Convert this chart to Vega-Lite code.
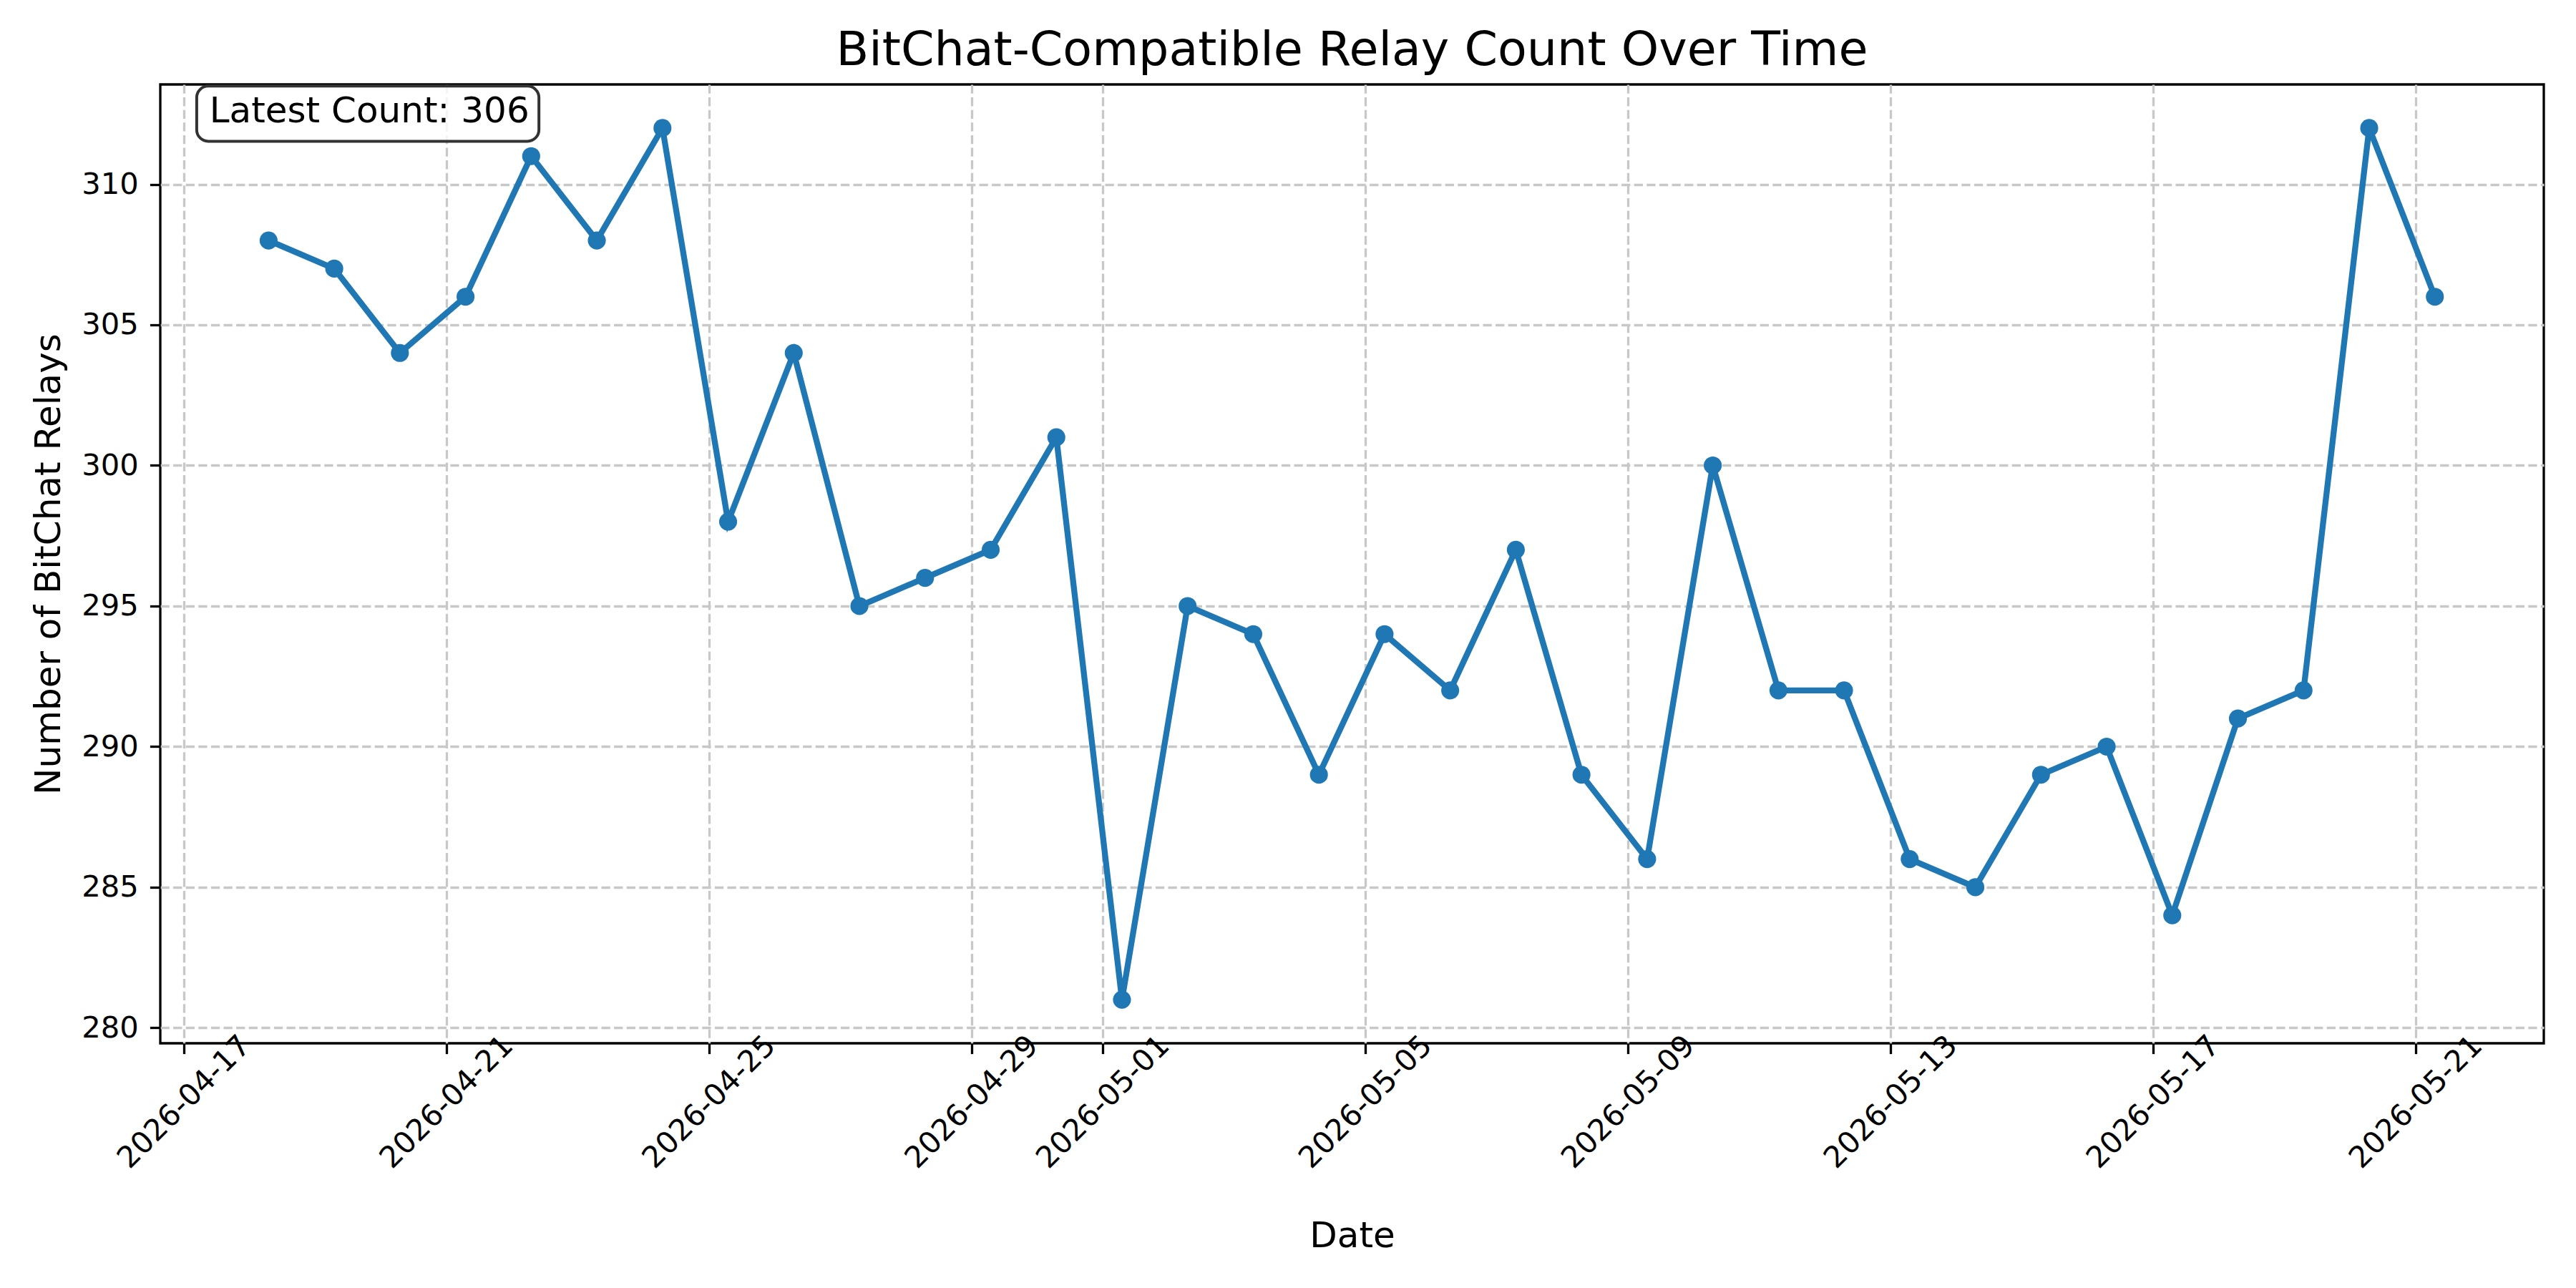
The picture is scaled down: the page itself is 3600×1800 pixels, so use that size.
{
  "$schema": "https://vega.github.io/schema/vega-lite/v6.json",
  "autosize": {"type": "none"},
  "padding": {"left": 224, "top": 118, "right": 45, "bottom": 342},
  "width": 3331,
  "height": 1340,
  "background": "white",
  "title": {
    "text": "BitChat-Compatible Relay Count Over Time",
    "font": "DejaVu Sans",
    "fontSize": 66.7,
    "fontWeight": "normal",
    "color": "black",
    "anchor": "middle",
    "frame": "group",
    "baseline": "alphabetic",
    "offset": 25,
    "dy": 65
  },
  "config": {
    "view": {"stroke": "black", "strokeWidth": 3.3},
    "axis": {
      "domain": false,
      "labelFont": "DejaVu Sans",
      "labelFontSize": 41.7,
      "labelColor": "black",
      "labelLimit": 1000,
      "titleFont": "DejaVu Sans",
      "titleFontSize": 50,
      "titleFontWeight": "normal",
      "titleColor": "black",
      "tickColor": "black",
      "tickSize": 14.6,
      "tickWidth": 3.3,
      "grid": true,
      "gridColor": "#c8c8c8",
      "gridWidth": 3.3,
      "gridDash": [12.3, 5.3]
    }
  },
  "layer": [
    {
      "data": {
        "values": [
          {"date": "2026-04-18T07:00:00", "count": 308},
          {"date": "2026-04-19T07:00:00", "count": 307},
          {"date": "2026-04-20T07:00:00", "count": 304},
          {"date": "2026-04-21T07:00:00", "count": 306},
          {"date": "2026-04-22T07:00:00", "count": 311},
          {"date": "2026-04-23T07:00:00", "count": 308},
          {"date": "2026-04-24T07:00:00", "count": 312},
          {"date": "2026-04-25T07:00:00", "count": 298},
          {"date": "2026-04-26T07:00:00", "count": 304},
          {"date": "2026-04-27T07:00:00", "count": 295},
          {"date": "2026-04-28T07:00:00", "count": 296},
          {"date": "2026-04-29T07:00:00", "count": 297},
          {"date": "2026-04-30T07:00:00", "count": 301},
          {"date": "2026-05-01T07:00:00", "count": 281},
          {"date": "2026-05-02T07:00:00", "count": 295},
          {"date": "2026-05-03T07:00:00", "count": 294},
          {"date": "2026-05-04T07:00:00", "count": 289},
          {"date": "2026-05-05T07:00:00", "count": 294},
          {"date": "2026-05-06T07:00:00", "count": 292},
          {"date": "2026-05-07T07:00:00", "count": 297},
          {"date": "2026-05-08T07:00:00", "count": 289},
          {"date": "2026-05-09T07:00:00", "count": 286},
          {"date": "2026-05-10T07:00:00", "count": 300},
          {"date": "2026-05-11T07:00:00", "count": 292},
          {"date": "2026-05-12T07:00:00", "count": 292},
          {"date": "2026-05-13T07:00:00", "count": 286},
          {"date": "2026-05-14T07:00:00", "count": 285},
          {"date": "2026-05-15T07:00:00", "count": 289},
          {"date": "2026-05-16T07:00:00", "count": 290},
          {"date": "2026-05-17T07:00:00", "count": 284},
          {"date": "2026-05-18T07:00:00", "count": 291},
          {"date": "2026-05-19T07:00:00", "count": 292},
          {"date": "2026-05-20T07:00:00", "count": 312},
          {"date": "2026-05-21T07:00:00", "count": 306}
        ]
      },
      "encoding": {
        "x": {
          "field": "date",
          "type": "temporal",
          "title": "Date",
          "scale": {
            "domain": [
              {"year": 2026, "month": 4, "date": 16, "hours": 15, "minutes": 24},
              {"year": 2026, "month": 5, "date": 22, "hours": 22, "minutes": 50}
            ]
          },
          "axis": {
            "values": [
              {"year": 2026, "month": 4, "date": 17},
              {"year": 2026, "month": 4, "date": 21},
              {"year": 2026, "month": 4, "date": 25},
              {"year": 2026, "month": 4, "date": 29},
              {"year": 2026, "month": 5, "date": 1},
              {"year": 2026, "month": 5, "date": 5},
              {"year": 2026, "month": 5, "date": 9},
              {"year": 2026, "month": 5, "date": 13},
              {"year": 2026, "month": 5, "date": 17},
              {"year": 2026, "month": 5, "date": 21}
            ],
            "format": "%Y-%m-%d",
            "labelAngle": -45,
            "labelAlign": "center",
            "labelBaseline": "middle",
            "labelPadding": 67,
            "titlePadding": 62,
            "labelOverlap": false,
            "labelFlush": false
          }
        },
        "y": {
          "field": "count",
          "type": "quantitative",
          "title": "Number of BitChat Relays",
          "scale": {"domain": [279.45, 313.55], "nice": false, "zero": false},
          "axis": {
            "values": [280, 285, 290, 295, 300, 305, 310],
            "format": "d",
            "labelPadding": 16,
            "titlePadding": 20
          }
        }
      },
      "layer": [
        {"mark": {"type": "line", "color": "#1f77b4", "strokeWidth": 8.3}},
        {"mark": {"type": "point", "filled": true, "shape": "circle", "color": "#1f77b4", "opacity": 1, "size": 630}}
      ]
    },
    {
      "data": {"values": [{"label": "Latest Count: 306"}]},
      "layer": [
        {
          "mark": {"type": "rect", "fill": "white", "fillOpacity": 0.8, "stroke": "#333333", "strokeWidth": 4, "cornerRadius": 16},
          "encoding": {
            "x": {"datum": {"year": 2026, "month": 4, "date": 17, "hours": 4, "minutes": 43}, "type": "temporal"},
            "x2": {"datum": {"year": 2026, "month": 4, "date": 22, "hours": 9, "minutes": 50}},
            "y": {"datum": 313.49, "type": "quantitative"},
            "y2": {"datum": 311.53}
          }
        },
        {
          "mark": {"type": "text", "font": "DejaVu Sans", "fontSize": 50, "color": "black", "align": "left", "baseline": "alphabetic"},
          "encoding": {
            "x": {"datum": {"year": 2026, "month": 4, "date": 17, "hours": 9, "minutes": 22}, "type": "temporal"},
            "y": {"datum": 312.19, "type": "quantitative"},
            "text": {"field": "label"}
          }
        }
      ]
    }
  ]
}
